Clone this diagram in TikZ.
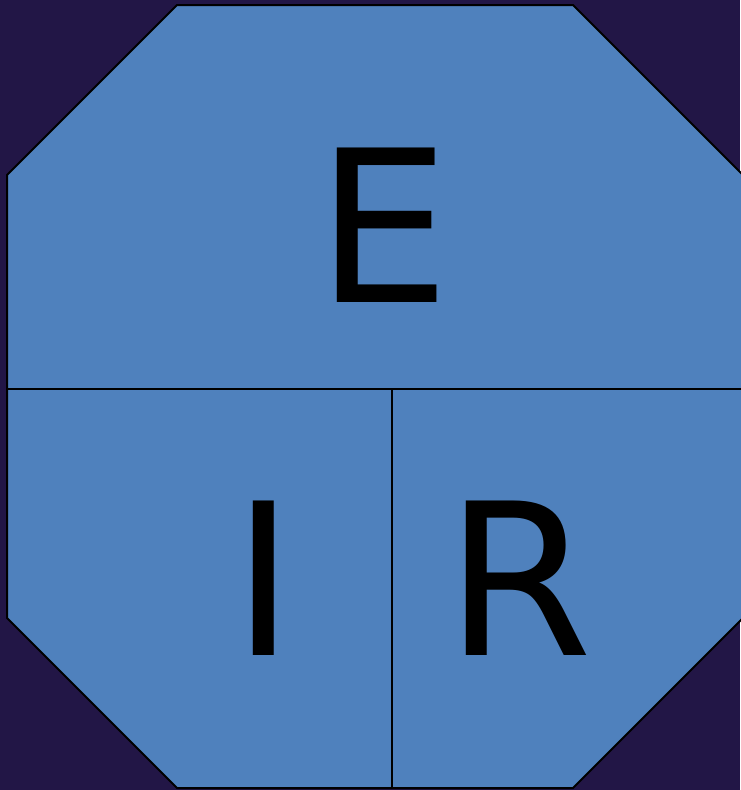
\documentclass[tikz,border=0pt]{standalone}
\usepackage{fontspec}
\setmainfont{DejaVu Sans}
\definecolor{bgpurple}{HTML}{221646}
\definecolor{octblue}{HTML}{4F81BD}
\begin{document}
\begin{tikzpicture}[x=1pt,y=-1pt,
  outline/.style={draw=black,line width=2pt,line join=miter},
  divider/.style={draw=black,line width=2pt},
  letter/.style={inner sep=0pt,outer sep=0pt,font=\fontsize{212}{212}\selectfont,text=black}]
\fill[bgpurple] (0,0) rectangle (740,790);
\useasboundingbox (0,0) rectangle (740,790);
\path[outline,fill=octblue] (177,5) -- (573,5) -- (743,175) -- (743,618) -- (573,788) -- (177,788) -- (7,618) -- (7,175) -- cycle;
\coordinate (hl) at (7,388.5);
\coordinate (hr) at (745,388.5);
\coordinate (vt) at (391.5,388.5);
\coordinate (vb) at (391.5,788);
\draw[divider] (hl) -- (hr);
\draw[divider] (vt) -- (vb);
\node[letter] (E) at (383.5,225.7) {E};
\node[letter] (I) at (263.5,578) {I};
\node[letter] (R) at (519.5,578) {R};
\end{tikzpicture}
\end{document}
